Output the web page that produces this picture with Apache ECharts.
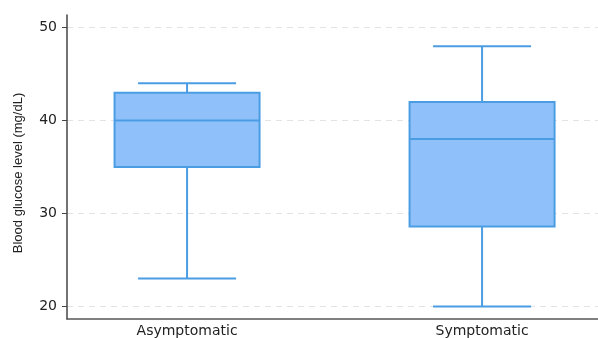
<!DOCTYPE html>
<html>
<head>
<meta charset="utf-8">
<script src="https://cdn.jsdelivr.net/npm/echarts@6/dist/echarts.min.js"></script>
<style>html,body{margin:0;padding:0;background:#fff}#c{width:598px;height:338px}</style>
</head>
<body>
<div id="c"></div>
<script>
const categories = ['Asymptomatic', 'Symptomatic'];
const positions = [1, 2];
const mins = [23, 20];
const q1s = [35, 28.6];
const medians = [40, 38];
const q3s = [43, 42];
const maxs = [44, 48];
const yTicks = [20, 30, 40, 50];
const yTitle = 'Blood glucose level (mg/dL)';

const boxColor = '#90C0FA';
const lineColor = '#4A9DE3';
const boxW = 145;
const capW = 98;

const boxData = positions.map((p, i) => [p, mins[i], q1s[i], medians[i], q3s[i], maxs[i]]);

function renderBox(params, api) {
  const x = api.value(0);
  const pMin = api.coord([x, api.value(1)]);
  const pQ1 = api.coord([x, api.value(2)]);
  const pMed = api.coord([x, api.value(3)]);
  const pQ3 = api.coord([x, api.value(4)]);
  const pMax = api.coord([x, api.value(5)]);
  const cx = pMed[0];
  const ls = {stroke: lineColor, lineWidth: 2};
  return {
    type: 'group',
    children: [
      {type: 'line', shape: {x1: cx, y1: pMax[1], x2: cx, y2: pQ3[1]}, style: ls},
      {type: 'line', shape: {x1: cx, y1: pQ1[1], x2: cx, y2: pMin[1]}, style: ls},
      {type: 'line', shape: {x1: cx - capW / 2, y1: pMax[1], x2: cx + capW / 2, y2: pMax[1]}, style: ls},
      {type: 'line', shape: {x1: cx - capW / 2, y1: pMin[1], x2: cx + capW / 2, y2: pMin[1]}, style: ls},
      {type: 'rect', shape: {x: cx - boxW / 2, y: pQ3[1], width: boxW, height: pQ1[1] - pQ3[1]},
        style: {fill: boxColor, stroke: lineColor, lineWidth: 2}},
      {type: 'line', shape: {x1: cx - boxW / 2, y1: pMed[1], x2: cx + boxW / 2, y2: pMed[1]}, style: ls}
    ]
  };
}

const chart = echarts.init(document.getElementById('c'), null, {renderer: 'canvas'});
chart.setOption({
  animation: false,
  grid: {left: 67, right: 0, top: 15, bottom: 16},
  xAxis: {
    type: 'value', min: 0.593, max: 2.393,
    axisLine: {show: true, lineStyle: {color: '#555', width: 1.5}},
    axisTick: {show: false},
    splitLine: {show: false},
    axisLabel: {
      customValues: positions,
      formatter: v => categories[positions.indexOf(v)] || '',
      color: '#222', fontFamily: 'DejaVu Sans', fontSize: 14, margin: 5
    }
  },
  yAxis: {
    type: 'value', min: 18.65, max: 51.35,
    name: yTitle, nameLocation: 'middle', nameRotate: 90, nameGap: 42,
    nameTextStyle: {color: '#222', fontFamily: 'Liberation Sans', fontSize: 13, padding: [0, 12, 0, 0]},
    axisLine: {show: true, lineStyle: {color: '#444', width: 1.5}},
    axisTick: {show: true, customValues: yTicks, length: 5, lineStyle: {color: '#444'}},
    axisLabel: {customValues: yTicks, color: '#222', fontFamily: 'DejaVu Sans', fontSize: 14, margin: 10},
    splitLine: {show: true, lineStyle: {color: '#e3e3e3', type: [6, 5], width: 1}}
  },
  series: [
    {
      type: 'custom',
      renderItem: renderBox,
      data: boxData,
      encode: {x: 0, y: [1, 2, 3, 4, 5]},
      clip: false
    }
  ]
});
</script>
</body>
</html>
